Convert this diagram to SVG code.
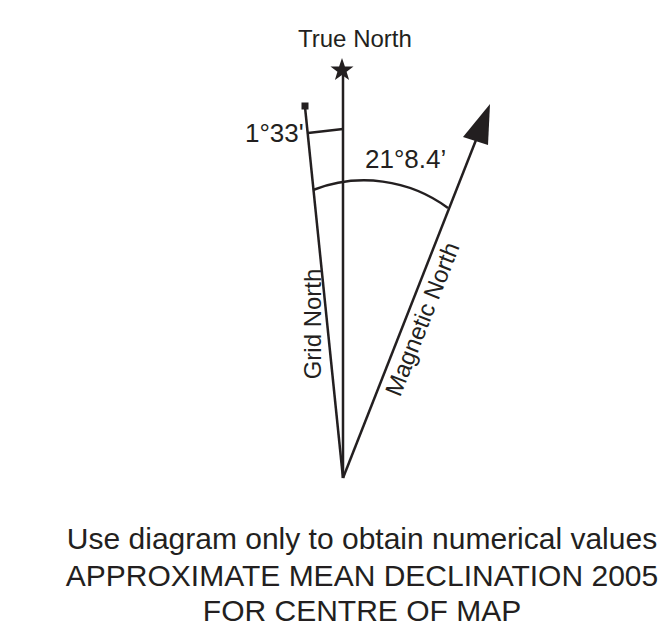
<svg xmlns="http://www.w3.org/2000/svg" width="670" height="629" viewBox="0 0 670 629">
<style>
.ln{stroke:#231f20;stroke-width:2.5;fill:none}
.t{font-family:"Liberation Sans",Arial,sans-serif;fill:#231f20}
</style>
<rect width="670" height="629" fill="#fff"/>
<g id="connectors">
<line class="ln" x1="343" y1="478" x2="343" y2="72"/>
<line class="ln" x1="343" y1="478" x2="305" y2="107"/>
<line class="ln" x1="343" y1="478" x2="476" y2="140"/>
<line class="ln" x1="308" y1="133" x2="343" y2="129"/>
<path class="ln" d="M313,190 A141,141 0 0 1 448,208"/>
</g>
<g id="true-north">
<polygon points="342,58 344.9,66.5 353.5,66.5 346.6,71.7 349.1,80 342,75 334.9,80 337.4,71.7 330.5,66.5 339.1,66.5" fill="#231f20"/>
<text class="t" x="298" y="47" font-size="24">True North</text>
</g>
<g id="grid-north">
<rect x="301.5" y="102.5" width="7" height="7" fill="#231f20"/>
<text class="t" font-size="24" text-anchor="middle" transform="translate(321,324) rotate(-90)">Grid North</text>
</g>
<g id="magnetic-north">
<polygon points="490,104 463,137 488,145" fill="#231f20"/>
<text class="t" font-size="24" text-anchor="middle" transform="translate(430,322) rotate(-68.4)">Magnetic North</text>
</g>
<g id="angle-grid">
<text class="t" x="245" y="142" font-size="26">1°33'</text>
</g>
<g id="angle-magnetic">
<text class="t" x="365" y="168" font-size="26">21°8.4’</text>
</g>
<g id="caption">
<text class="t" x="362" y="549" font-size="30" text-anchor="middle">Use diagram only to obtain numerical values</text>
<text class="t" x="362" y="586" font-size="30" text-anchor="middle">APPROXIMATE MEAN DECLINATION 2005</text>
<text class="t" x="362" y="621" font-size="30" text-anchor="middle">FOR CENTRE OF MAP</text>
</g>
</svg>
